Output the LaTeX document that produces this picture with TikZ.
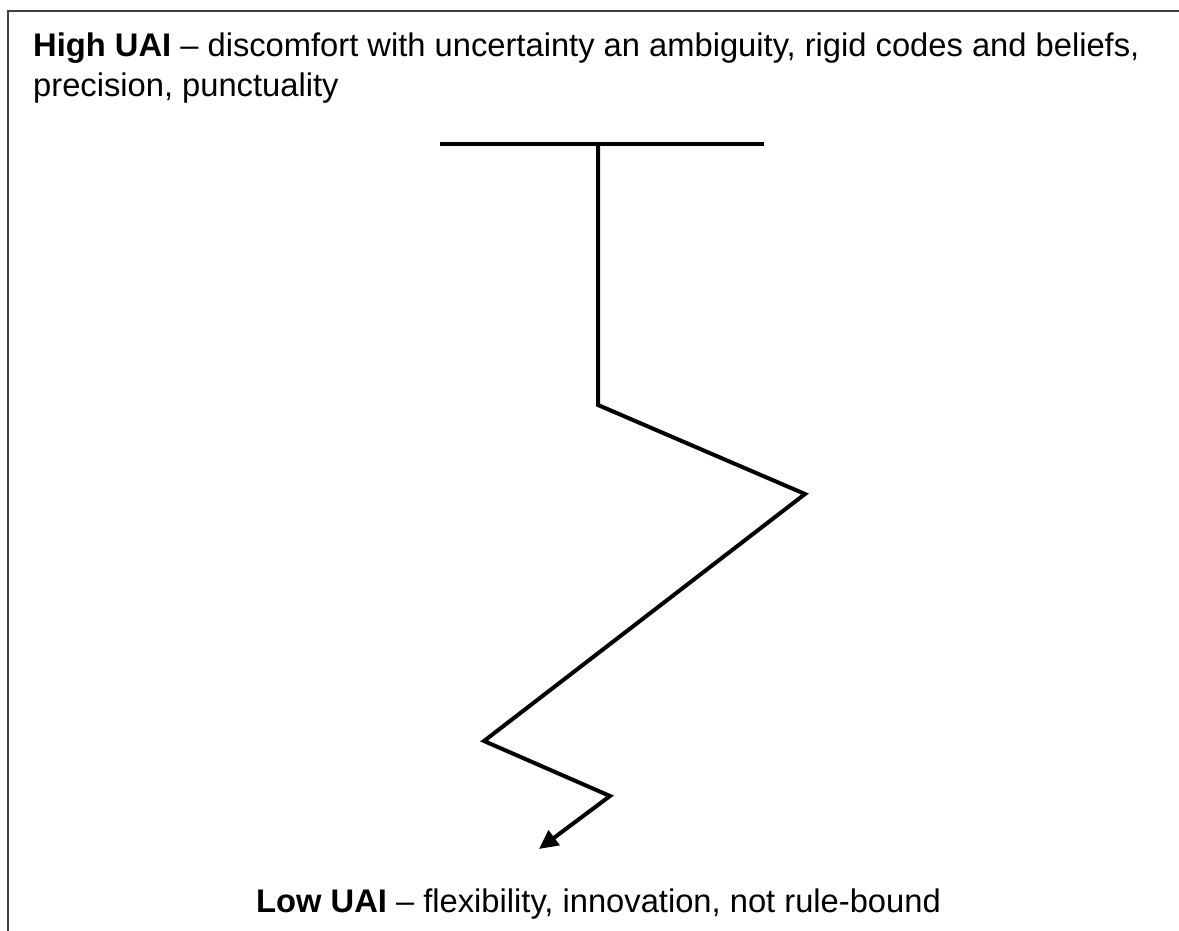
\documentclass[tikz,border=0pt]{standalone}
\usepackage{fontspec}
\setmainfont{Liberation Sans}
\usetikzlibrary{arrows.meta}
\begin{document}
\begin{tikzpicture}[x=1pt,y=-1pt,
  label text/.style={inner sep=0pt, anchor=base west, font=\fontsize{32.7}{38}\selectfont},
  zigzag/.style={line width=4pt, line join=miter},
  frameline/.style={line width=1.6pt, black!75}]
\useasboundingbox (0,0) rectangle (1179,931);
% open frame: left and top edges
\coordinate (fbl) at (8,931);
\coordinate (ftl) at (8,11);
\coordinate (ftr) at (1179,11);
\draw[frameline] (fbl) -- (ftl) -- (ftr);
% texts
\node[label text] (high1) at (33,56.5) {\textbf{High UAI} -- discomfort with uncertainty an ambiguity, rigid codes and beliefs,};
\node[label text] (high2) at (33,97) {precision, punctuality};
\node[label text] (low) at (256,912) {\textbf{Low UAI} -- flexibility, innovation, not rule-bound};
% T bar and descending zigzag
\coordinate (barL) at (440,144);
\coordinate (barR) at (764,144);
\coordinate (p0) at (598,144);
\coordinate (p1) at (598,405);
\coordinate (p2) at (805,494);
\coordinate (p3) at (484,741);
\coordinate (p4) at (610,796);
\coordinate (p5) at (539,849);
\draw[zigzag] (barL) -- (barR);
\draw[zigzag, -{Triangle[length=19pt,width=18pt]}] (p0) -- (p1) -- (p2) -- (p3) -- (p4) -- (p5);
\end{tikzpicture}
\end{document}
